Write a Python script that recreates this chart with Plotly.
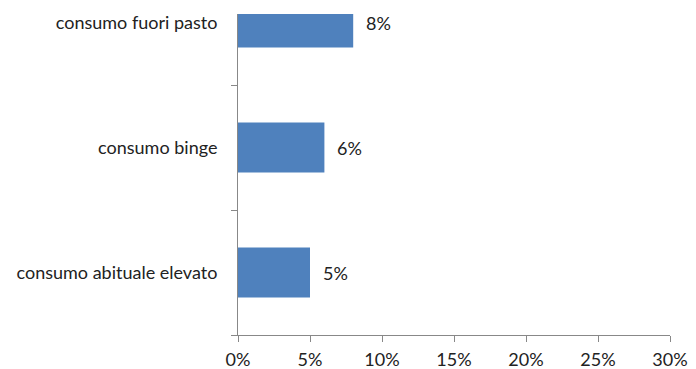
import plotly.graph_objects as go

categories = ["consumo abituale elevato", "consumo binge", "consumo fuori pasto"]
values = [5, 6, 8]
labels = ["5%", "6%", "8%"]
x_ticks = [0, 5, 10, 15, 20, 25, 30]
x_tick_labels = ["0%", "5%", "10%", "15%", "20%", "25%", "30%"]

fig = go.Figure()
fig.add_trace(go.Bar(
    y=categories, x=values, orientation="h",
    marker=dict(color="#4F81BD", line=dict(width=0)),
    width=0.4, hoverinfo="skip",
))
for c, v, t in zip(categories, values, labels):
    fig.add_annotation(x=v, y=c, text=t, showarrow=False, xanchor="left",
                       xshift=11, font=dict(family="Lato", size=18, color="#222"))

fig.update_layout(
    width=696, height=369,
    margin=dict(l=238, r=26, t=14, b=34, autoexpand=False),
    plot_bgcolor="white", paper_bgcolor="white",
    showlegend=False,
    font=dict(family="Lato", size=18, color="#222"),
    bargap=0.6,
)
fig.update_xaxes(
    range=[0, 30], tickvals=x_ticks, ticktext=x_tick_labels,
    showgrid=False, zeroline=False, showline=True, linecolor="#888", linewidth=1,
    ticks="outside", ticklen=6, tickcolor="#888", tickwidth=1,
    fixedrange=True, ticklabelstandoff=2,
)
fig.update_yaxes(
    type="category", categoryorder="array", categoryarray=categories,
    range=[-0.5, 2.068], tickson="boundaries",
    showgrid=False, zeroline=False, showline=True, linecolor="#888", linewidth=1,
    ticks="outside", ticklen=6, tickcolor="#888", tickwidth=1,
    ticklabelstandoff=16,
)
fig.write_html("out.html")
